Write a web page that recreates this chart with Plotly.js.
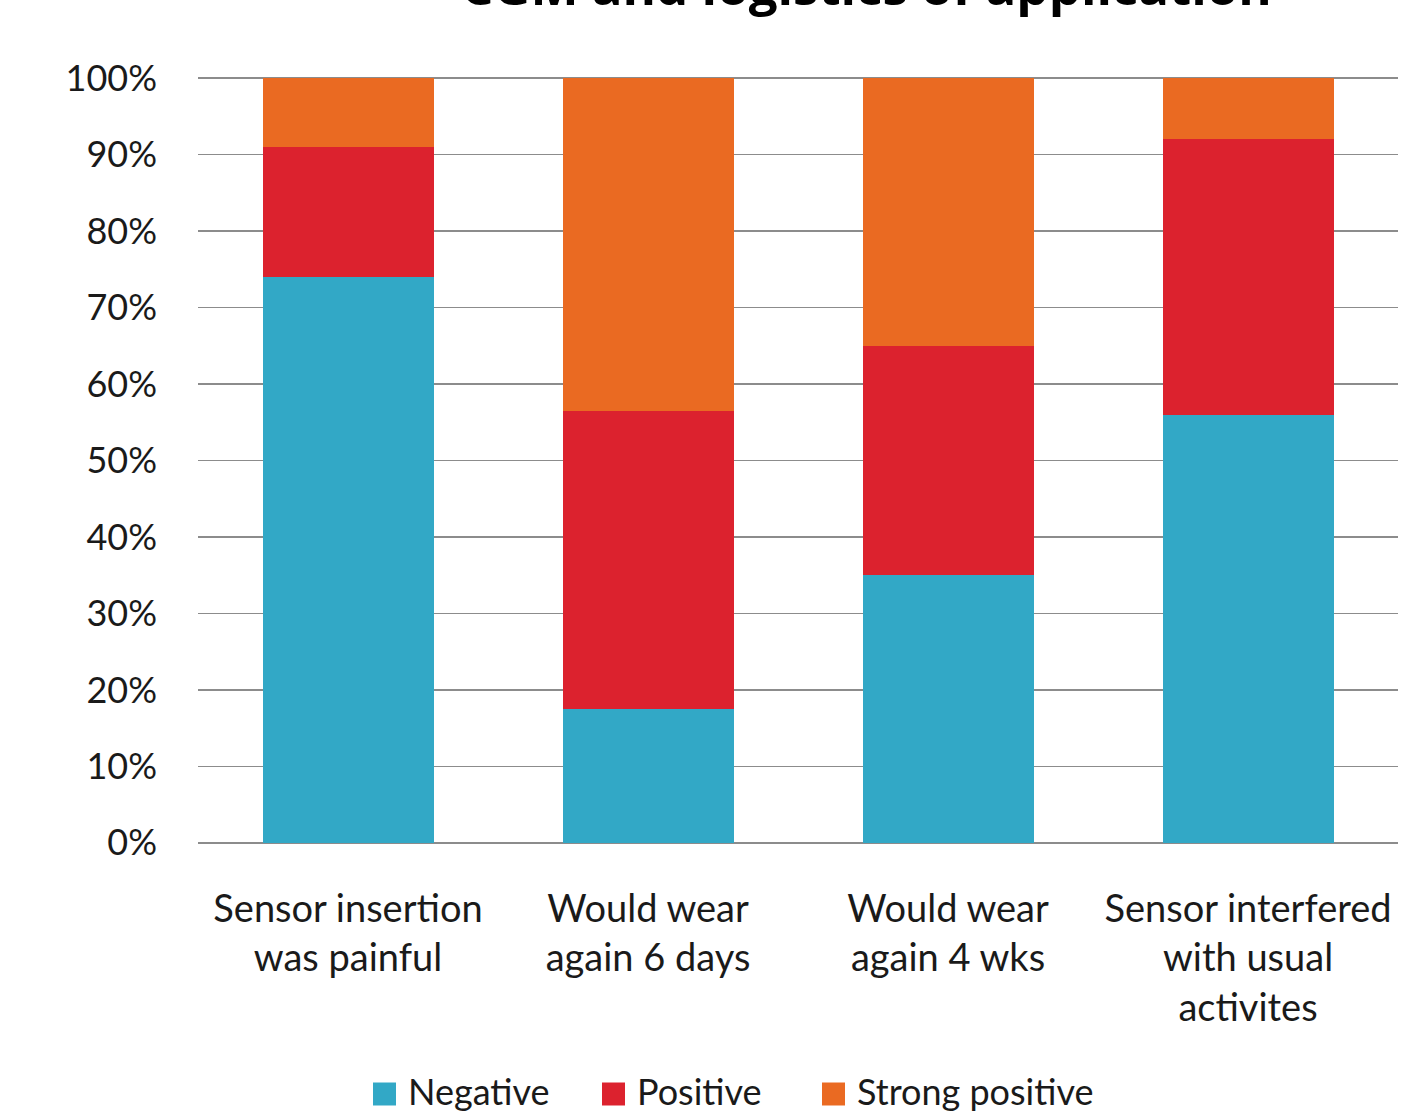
<!DOCTYPE html>
<html>
<head>
<meta charset="utf-8">
<script src="https://cdn.plot.ly/plotly-3.0.1.min.js"></script>
<style>html,body{margin:0;padding:0;background:#fff;}#chart{width:1427px;height:1116px;}</style>
</head>
<body>
<div id="chart"></div>
<script>
const categories = ["Sensor insertion<br>was painful", "Would wear<br>again 6 days", "Would wear<br>again 4 wks", "Sensor interfered<br>with usual<br>activites"];
const negative = [74, 17.5, 35, 56];
const positive = [17, 39, 30, 36];
const strongPositive = [9, 43.5, 35, 8];
const seriesNames = ["Negative", "Positive", "Strong positive"];
const colors = ["#32a8c6", "#dc222e", "#ea6a22"];
const titleText = "CGM and logistics of application";
const yTickVals = [0, 10, 20, 30, 40, 50, 60, 70, 80, 90, 100];
const yTickText = yTickVals.map(v => v + "%");

const font = "Lato, 'Open Sans', sans-serif";
const textColor = "#1a1a1a";
const seriesValues = [negative, positive, strongPositive];
const traces = seriesValues.map((vals, i) => ({
  type: "bar",
  name: seriesNames[i],
  x: categories,
  y: vals,
  marker: {color: colors[i]},
  width: 0.57,
  hoverinfo: "none"
}));

// custom legend (larger swatches), placed in paper coordinates below the axis
const plotL = 198, plotW = 1200, plotB = 844, plotH = 767;
const px2x = p => (p - plotL) / plotW;
const px2y = p => (plotB - p) / plotH;
const legendSwatchX = [373, 602, 822];
const legendCenterY = 1094;
const shapes = [];
const annotations = [{
  text: "<b>" + titleText + "</b>", xref: "paper", yref: "paper", x: px2x(866), y: 1,
  xanchor: "center", yanchor: "middle", yshift: 92, showarrow: false,
  font: {family: "'Open Sans', sans-serif", size: 51, color: "#000"}
}];
seriesNames.forEach((name, i) => {
  const sx = legendSwatchX[i];
  shapes.push({type: "rect", xref: "paper", yref: "paper",
    x0: px2x(sx), x1: px2x(sx + 23), y0: px2y(legendCenterY + 11.5), y1: px2y(legendCenterY - 11.5),
    fillcolor: colors[i], line: {width: 0}});
  annotations.push({text: name, xref: "paper", yref: "paper", x: px2x(sx + 33), y: px2y(legendCenterY),
    xanchor: "left", yanchor: "middle", yshift: 3, showarrow: false,
    font: {family: font, size: 36, color: textColor}});
});

const layout = {
  width: 1427, height: 1116,
  barmode: "stack",
  margin: {l: 198, r: 29, t: 77, b: 272},
  paper_bgcolor: "#fff", plot_bgcolor: "#fff",
  font: {family: font, size: 36, color: textColor},
  showlegend: false,
  xaxis: {type: "category", range: [-0.5, 3.5], showgrid: false, zeroline: false, showline: false,
          ticks: "", ticklabelstandoff: 39, tickfont: {family: font, size: 38, color: textColor}},
  yaxis: {range: [-0.15, 100.15], tickvals: yTickVals, ticktext: yTickText, showgrid: true,
          gridcolor: "#8c8c8c", gridwidth: 1.5, zeroline: false, showline: false, ticks: "",
          ticklabelstandoff: 40, tickfont: {family: font, size: 36, color: textColor}},
  shapes: shapes,
  annotations: annotations
};

Plotly.newPlot("chart", traces, layout, {displayModeBar: false, staticPlot: true});
</script>
</body>
</html>
